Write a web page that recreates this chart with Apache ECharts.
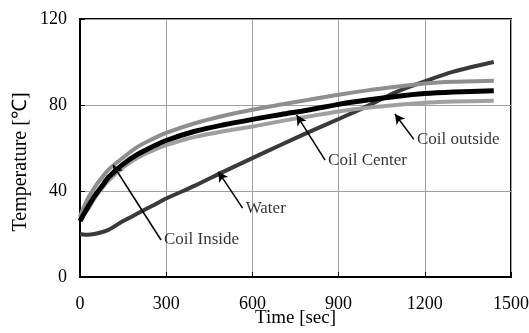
<!DOCTYPE html>
<html>
<head>
<meta charset="utf-8">
<script src="https://cdn.jsdelivr.net/npm/echarts@6/dist/echarts.min.js"></script>
<style>
html,body{margin:0;padding:0;background:#fff;}
#chart{width:529px;height:333px;}
</style>
</head>
<body>
<div id="chart"></div>
<script>
// ---- Data ----
const time = [0, 10, 25, 50, 75, 100, 150, 200, 250, 300, 400, 500, 600, 700, 800, 900, 1000, 1100, 1200, 1300, 1440];
const coilInside  = [28, 31.5, 36, 41.5, 46, 50, 55.5, 60.5, 64, 67, 71.5, 75, 77.8, 80.2, 82.5, 84.8, 86.8, 88.5, 90, 90.8, 91.3];
const coilCenter  = [26, 28.5, 32, 37.5, 42, 46.5, 52.5, 57, 60.5, 63.5, 67.8, 70.8, 73.3, 75.6, 77.8, 80.3, 82.3, 84, 85.3, 86, 86.6];
const coilOutside = [27.5, 29, 31, 36.5, 41, 45, 51, 55.5, 58.7, 61.3, 65.2, 67.8, 70, 72.5, 74.8, 77, 78.7, 80, 81, 81.6, 82];
const water       = [20, 19.8, 19.7, 20, 20.8, 22, 26, 29.5, 33, 36.5, 42.5, 49, 55.3, 61.5, 67.6, 73.5, 79.5, 86, 91, 95.5, 100];

const xTicks = [0, 300, 600, 900, 1200, 1500];
const yTicks = [0, 40, 80, 120];

// annotations: text, label anchor [t, T], arrow tip [t, T]
const annoText = ['Coil Inside', 'Water', 'Coil Center', 'Coil outside'];
const annoFrom = [[282, 17.2], [566, 32], [853, 54.4], [1162, 64]];
const annoTo   = [[115, 52.1], [481, 49], [754, 75.3], [1096, 75.8]];

const font = "'Liberation Serif', 'Times New Roman', serif";
const zip = (xs, ys) => xs.map((x, i) => [x, ys[i]]);

const chart = echarts.init(document.getElementById('chart'), null, {renderer: 'canvas'});
const option = {
  animation: false,
  backgroundColor: '#fff',
  grid: {left: 80, right: 18, top: 19, bottom: 56, show: true, borderColor: '#000', borderWidth: 2,
         backgroundColor: 'transparent', containLabel: false, outerBoundsMode: 'none'},
  xAxis: {
    type: 'value', min: xTicks[0], max: xTicks[xTicks.length - 1], interval: 300,
    name: 'Time [sec]', nameLocation: 'middle', nameGap: 32, nameMoveOverlap: false,
    nameTextStyle: {fontFamily: font, fontSize: 19, color: '#000'},
    axisLine: {show: true, onZero: false, lineStyle: {color: '#000', width: 2}},
    axisTick: {show: true, inside: true, length: 5, lineStyle: {color: '#000', width: 1}},
    axisLabel: {fontFamily: font, fontSize: 18, color: '#000', margin: 18, formatter: v => String(v)},
    splitLine: {show: true, lineStyle: {color: '#a0a0a0', width: 1}}
  },
  yAxis: {
    type: 'value', min: yTicks[0], max: yTicks[yTicks.length - 1], interval: 40,
    name: 'Temperature [℃]', nameLocation: 'middle', nameGap: 49, nameMoveOverlap: false,
    nameTextStyle: {fontFamily: font, fontSize: 20, color: '#000', padding: [0, 28, 0, 0]},
    axisLine: {show: true, onZero: false, lineStyle: {color: '#000', width: 2}},
    axisTick: {show: true, inside: true, length: 5, lineStyle: {color: '#000', width: 1}},
    axisLabel: {fontFamily: font, fontSize: 18, color: '#000', margin: 13, formatter: v => String(v)},
    splitLine: {show: true, lineStyle: {color: '#a0a0a0', width: 1}}
  },
  series: [
    {name: 'Water', type: 'line', data: zip(time, water), smooth: 0.3, showSymbol: false,
     lineStyle: {color: '#3a3a3a', width: 4}, z: 2},
    {name: 'Coil Inside', type: 'line', data: zip(time, coilInside), smooth: 0.3, showSymbol: false,
     lineStyle: {color: '#8e8e8e', width: 4}, z: 3},
    {name: 'Coil outside', type: 'line', data: zip(time, coilOutside), smooth: 0.3, showSymbol: false,
     lineStyle: {color: '#a0a0a0', width: 4}, z: 3},
    {name: 'Coil Center', type: 'line', data: zip(time, coilCenter), smooth: 0.3, showSymbol: false,
     lineStyle: {color: '#000', width: 5}, z: 4},
    {name: 'arrows', type: 'line', data: [], z: 6,
     markLine: {silent: true, symbol: ['none', 'arrow'], symbolSize: [8, 10],
       lineStyle: {color: '#000', width: 1.5, type: 'solid'}, label: {show: false},
       data: annoFrom.map((f, i) => [{coord: f}, {coord: annoTo[i]}])}},
    {name: 'labels', type: 'scatter', symbolSize: 0, z: 7,
     data: annoFrom.map((f, i) => ({value: f, name: annoText[i]})),
     label: {show: true, position: 'right', distance: 3, formatter: p => p.name,
       fontFamily: font, fontSize: 17, color: '#000'}}
  ]
};
chart.setOption(option);
</script>
</body>
</html>
